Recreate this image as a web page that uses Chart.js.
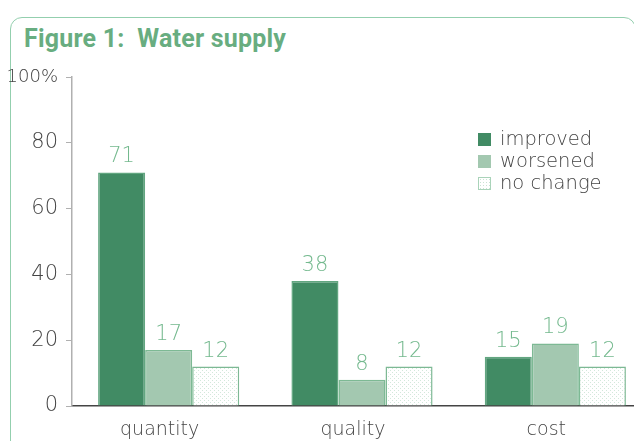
<!DOCTYPE html>
<html>
<head>
<meta charset="utf-8">
<script src="https://cdn.jsdelivr.net/npm/chart.js@4"></script>
<style>
  html, body { margin: 0; padding: 0; background: #fff; overflow: hidden; width: 634px; height: 441px; }
  #frame { position: absolute; left: 10px; top: 17px; width: 626px; height: 460px; border: 1.5px solid #93cfae; border-radius: 12px; box-sizing: border-box; }
  #title { position: absolute; left: 24px; top: 24px; font-family: "Liberation Sans Narrow", "Roboto", sans-serif; font-weight: bold; font-size: 25px; color: #68ad80; letter-spacing: 0.2px; white-space: pre; }
  #wrap { position: absolute; left: 0; top: 0; width: 660px; height: 441px; }
  #legend { position: absolute; left: 478px; top: 128px; font-family: "DejaVu Sans", sans-serif; font-weight: 200; font-size: 19.5px; color: #444; }
  #legend div { height: 22px; line-height: 22px; white-space: nowrap; }
  #legend span.box { display: inline-block; width: 13px; height: 13px; margin-right: 9px; vertical-align: -1px; box-sizing: border-box; }
</style>
</head>
<body>
<div id="frame"></div>
<div id="title">Figure 1:  Water supply</div>
<div id="wrap"><canvas id="c" width="660" height="441"></canvas></div>
<div id="legend"></div>
<script>
const categories = ["quantity", "quality", "cost"];
const seriesNames = ["improved", "worsened", "no change"];
const improved = [71, 38, 15];
const worsened = [17, 8, 19];
const noChange = [12, 12, 12];
const yTicks = [0, 20, 40, 60, 80, 100];

function dotPattern() {
  const p = document.createElement('canvas');
  p.width = 4; p.height = 4;
  const g = p.getContext('2d');
  g.fillStyle = '#ffffff'; g.fillRect(0, 0, 4, 4);
  g.fillStyle = '#d3e8db';
  g.fillRect(0, 0, 1, 1);
  g.fillRect(2, 2, 1, 1);
  return document.getElementById('c').getContext('2d').createPattern(p, 'repeat');
}
const pattern = dotPattern();

const fills = ['#418b64', '#a3c8b0', pattern];
const borders = ['#62a680', '#7db994', '#7db994'];

const valueLabels = {
  id: 'valueLabels',
  afterDatasetsDraw(chart) {
    const ctx = chart.ctx;
    ctx.save();
    ctx.font = '200 21px "DejaVu Sans", sans-serif';
    ctx.fillStyle = '#74b98e';
    ctx.textAlign = 'center';
    ctx.textBaseline = 'alphabetic';
    chart.data.datasets.forEach((ds, i) => {
      chart.getDatasetMeta(i).data.forEach((bar, j) => {
        ctx.fillText(String(ds.data[j]), bar.x, bar.y - 10);
      });
    });
    ctx.restore();
  }
};

const chart = new Chart(document.getElementById('c'), {
  type: 'bar',
  data: {
    labels: categories,
    datasets: [
      { label: seriesNames[0], data: improved, backgroundColor: fills[0], borderColor: borders[0], borderWidth: 1.5 },
      { label: seriesNames[1], data: worsened, backgroundColor: fills[1], borderColor: borders[1], borderWidth: 1.5 },
      { label: seriesNames[2], data: noChange, backgroundColor: fills[2], borderColor: borders[2], borderWidth: 1.5 }
    ]
  },
  options: {
    responsive: false,
    animation: false,
    layout: { padding: { top: 77, right: 8, left: 0, bottom: 0 } },
    datasets: { bar: { barPercentage: 1.0, categoryPercentage: 0.73 } },
    plugins: { legend: { display: false }, tooltip: { enabled: false } },
    scales: {
      x: {
        grid: { display: false },
        border: { display: true, color: '#444', width: 1.5 },
        ticks: { color: '#444', font: { family: '"DejaVu Sans", sans-serif', weight: 200, size: 19 }, labelOffset: -9, padding: 5 },
        afterFit(s) { s.height = 35; }
      },
      y: {
        min: 0, max: 100,
        afterBuildTicks(s) { s.ticks = yTicks.map(v => ({ value: v })); },
        grid: { drawOnChartArea: false, drawTicks: true, tickLength: 6, color: '#b0b0b0', tickColor: '#b0b0b0' },
        border: { display: true, color: '#b0b0b0', width: 1.5 },
        ticks: {
          color: '#444',
          padding: 8,
          font: ctx => ({ family: '"DejaVu Sans", sans-serif', weight: 200, size: (ctx.tick && ctx.tick.value === 100) ? 18 : 21 }),
          callback: v => v === 100 ? '100%' : String(v)
        },
        afterFit(s) { s.width = 72; }
      }
    }
  },
  plugins: [valueLabels]
});

const lg = document.getElementById('legend');
seriesNames.forEach((n, i) => {
  const d = document.createElement('div');
  const b = document.createElement('span');
  b.className = 'box';
  if (i === 2) {
    b.style.background = 'radial-gradient(#c9e3d3 35%, transparent 40%) 0 0 / 3px 3px, #fff';
    b.style.border = '1px solid #a9d3b9';
  } else {
    b.style.background = fills[i];
  }
  d.appendChild(b);
  d.appendChild(document.createTextNode(n));
  lg.appendChild(d);
});
</script>
</body>
</html>
